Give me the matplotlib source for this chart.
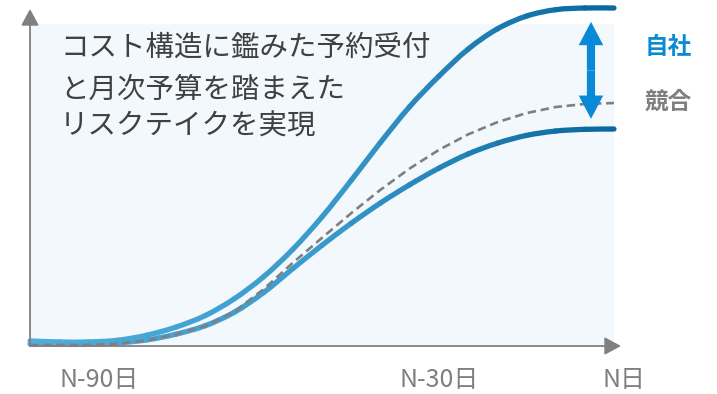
import numpy as np
import matplotlib

matplotlib.use("Agg")
import matplotlib.pyplot as plt  # noqa: E402
from matplotlib.path import Path  # noqa: E402
from matplotlib.patches import PathPatch, Rectangle  # noqa: E402
from matplotlib.colors import LinearSegmentedColormap  # noqa: E402

plt.rcParams["font.family"] = ["Noto Sans CJK JP", "DejaVu Sans"]

# ---- data (days before N, arbitrary booking index) -------------------------
days = [-100, -95, -90, -85, -80, -75, -70, -65, -60, -55, -50,
        -45, -40, -35, -30, -25, -20, -15, -10, -5, 0]
own_high = [1.5, 1.2, 1.2, 1.7, 3.2, 5.6, 9.0, 14.0, 20.5, 28.6, 38.2,
            49.0, 60.2, 70.8, 79.8, 87.8, 93.8, 97.6, 99.5, 100.0, 100.0]
own_low = [0.6, 0.5, 0.5, 0.9, 1.8, 3.5, 6.0, 10.0, 15.8, 22.9, 29.8,
           36.3, 42.3, 47.7, 52.6, 56.8, 60.0, 62.3, 63.6, 64.1, 64.2]
rival = [0.3, 0.3, 0.3, 0.7, 1.7, 3.4, 5.9, 10.2, 16.8, 24.6, 32.0,
         39.3, 46.2, 52.5, 58.0, 62.6, 66.2, 68.9, 70.7, 71.6, 71.9]
tick_days = [-90, -30, 0]
tick_labels = ["N-90日", "N-30日", "N日"]
message = ["コスト構造に鑑みた予約受付", "と月次予算を踏まえた", "リスクテイクを実現"]
series_labels = ["自社", "競合"]

BLUE = "#0A8AD6"
GREY = "#7F7F7F"
TEXT = "#404040"
BG = "#F3F8FD"
W, H = 717, 394
grad = LinearSegmentedColormap.from_list("g", ["#4DAEDD", "#3A9ACB", "#0A6AA0"])


def fx(px):
    return px / W


def fy(py):
    return 1 - py / H


def smooth_gradient(ax, xs, ys, lw):
    """Catmull-Rom bezier pieces, coloured left to right."""
    p = np.column_stack([xs, ys]).astype(float)
    p = np.vstack([p[0], p, p[-1]])
    n = len(xs) - 1
    for i in range(n):
        p0, p1, p2, p3 = p[i], p[i + 1], p[i + 2], p[i + 3]
        c1 = p1 + (p2 - p0) / 6
        c2 = p2 - (p3 - p1) / 6
        path = Path([p1, c1, c2, p2], [Path.MOVETO, Path.CURVE4, Path.CURVE4, Path.CURVE4])
        ax.add_patch(PathPatch(path, fill=False, lw=lw, edgecolor=grad(i / (n - 1)),
                               capstyle="round", joinstyle="round", zorder=3))


fig = plt.figure(figsize=(W / 100, H / 100), dpi=100)
ax = fig.add_axes([0, 0, 1, 1])
ax.set_xlim(-105.14, 17.64)
ax.set_ylim(-14.2, 102.37)
ax.axis("off")

ax.add_patch(Rectangle((days[0], 0), days[-1] - days[0], 95.3, color=BG, lw=0, zorder=0))

smooth_gradient(ax, days, own_high, 3.8)
smooth_gradient(ax, days, own_low, 3.8)
ax.plot(days, rival, color=GREY, lw=1.9, ls=(0, (3.2, 1.8)), zorder=3.5)

# axes with arrow heads
arrow = dict(arrowstyle="-|>,head_length=10,head_width=5.4", mutation_scale=1,
             color="#808080", lw=1.3, shrinkA=0, shrinkB=0)
ax.annotate("", xy=(1.2, 0), xytext=(days[0], 0), arrowprops=arrow, zorder=4)
ax.annotate("", xy=(days[0], 99.7), xytext=(days[0], 0), arrowprops=arrow, zorder=4)

# gap arrow between own and rival
ax_x, top, bot = -3.94, 95.9, 67.2
mid = (top + bot) / 2
for end in (top, bot):
    ax.arrow(ax_x, mid, 0, end - mid, width=1.4, head_width=4.2, head_length=6.9,
             length_includes_head=True, color=BLUE, lw=0, zorder=5)

fig.text(fx(668), fy(47), series_labels[0], color=BLUE, fontsize=17, fontweight="bold",
         ha="center", va="center")
fig.text(fx(668), fy(102), series_labels[1], color=GREY, fontsize=17, fontweight="bold",
         ha="center", va="center")

for line, base in zip(message, [56, 98, 135]):
    fig.text(fx(60), fy(base), line, color=TEXT, fontsize=20.5, ha="left", va="baseline")

for d, lab, off in zip(tick_days, tick_labels, [11, 0, 10]):
    ax.annotate(lab, xy=(d, 0), xycoords="data", xytext=(off, -34), textcoords="offset pixels",
                color=GREY, fontsize=18, ha="center", va="center")

fig.savefig("out.png", dpi=100)
